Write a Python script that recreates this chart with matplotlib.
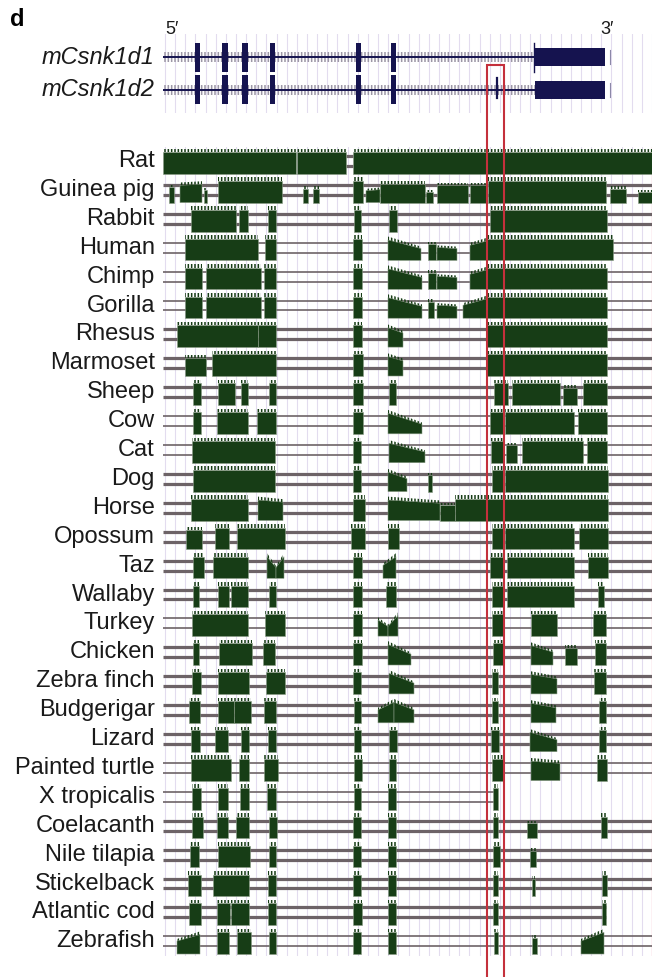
import numpy as np
import matplotlib
matplotlib.use('Agg')
import matplotlib.pyplot as plt
from matplotlib.patches import Polygon, Rectangle
from matplotlib.transforms import blended_transform_factory

plt.rcParams['font.family'] = ['Liberation Sans', 'DejaVu Sans']
plt.rcParams['hatch.linewidth'] = 1.1

W, H = 667, 977

# gene models (positions on the browser window, left = 163, right = 652)
genes = ['mCsnk1d1', 'mCsnk1d2']
exons = [(195, 200), (222, 228), (242, 248), (270, 275), (356, 361), (391, 396)]
intron_span = (163, 535)
utr_block = (535, 605)
alt_exon = 497
highlight = (487, 504)

species = ['Rat', 'Guinea pig', 'Rabbit', 'Human', 'Chimp', 'Gorilla', 'Rhesus',
           'Marmoset', 'Sheep', 'Cow', 'Cat', 'Dog', 'Horse', 'Opossum', 'Taz',
           'Wallaby', 'Turkey', 'Chicken', 'Zebra finch', 'Budgerigar', 'Lizard',
           'Painted turtle', 'X tropicalis', 'Coelacanth', 'Nile tilapia',
           'Stickelback', 'Atlantic cod', 'Zebrafish']

# conserved blocks per species: (start, end) or (start, end, h_left, h_right)
cons_blocks = [
    [(163, 296), (297, 346), (353, 652)],
    [(169, 174, .7, .7), (180, 202, .8, .85), (204, 207, .6, .6), (218, 282), (303, 308, .65, .65),
     (313, 319, .65, .65), (353, 363), (366, 380, .55, .6), (380, 425, .85, .85), (426, 433, .5, .5),
     (437, 468, .8, .8), (470, 487, .8, .8), (488, 606), (610, 626, .65, .65), (638, 652, .5, .5)],
    [(191, 236), (239, 248), (268, 276), (354, 361), (389, 397), (490, 607)],
    [(185, 258), (265, 276), (353, 362), (388, 421, .95, .55), (428, 436, .75, .75),
     (437, 457, .6, .55), (470, 487, .7, .9), (487, 613)],
    [(185, 202), (206, 261), (264, 276), (353, 362), (388, 422, .95, .55), (428, 436, .75, .75),
     (437, 457, .6, .55), (470, 487, .7, .9), (487, 607)],
    [(185, 202), (206, 261), (264, 276), (353, 362), (388, 422, .95, .55), (428, 434, .75, .75),
     (437, 457, .6, .55), (463, 487, .6, .9), (487, 607)],
    [(177, 258), (258, 276), (353, 362), (388, 403, .9, .65), (487, 607)],
    [(185, 206, .85, .85), (212, 276), (353, 363), (388, 403, .9, .7), (487, 607)],
    [(193, 201), (218, 235), (241, 248), (269, 276), (353, 363), (389, 396), (494, 508),
     (512, 560), (563, 577, .8, .8), (583, 607)],
    [(193, 201), (217, 248), (257, 276), (353, 363), (388, 422, .95, .45), (490, 503),
     (505, 574), (578, 607)],
    [(192, 275), (353, 361), (389, 425, .9, .5), (491, 503), (506, 517, .8, .8), (522, 583),
     (587, 607)],
    [(193, 275), (353, 361), (388, 407, .9, .6), (428, 432, .75, .75), (492, 503), (505, 608)],
    [(191, 248), (258, 283, .95, .85), (353, 365), (388, 440, .95, .8), (440, 455, .7, .7),
     (455, 608)],
    [(186, 202, .9, .9), (215, 229), (237, 285), (351, 365), (388, 399), (492, 503),
     (505, 574), (579, 608)],
    [(193, 204), (213, 248), (267, 276, 1, .5), (276, 284, .5, 1), (353, 362), (383, 396, .6, 1),
     (490, 503), (507, 574), (588, 608)],
    [(193, 199), (218, 229), (231, 248), (269, 276), (353, 362), (386, 396), (492, 503),
     (507, 574), (598, 604)],
    [(192, 248), (265, 285), (353, 362), (378, 388, .75, .45), (388, 398, .45, .95),
     (492, 503), (531, 557), (593, 606)],
    [(193, 199), (219, 252), (263, 275), (353, 362), (388, 411, .95, .5), (493, 503),
     (531, 553, .9, .6), (565, 577, .8, .8), (595, 606)],
    [(192, 201), (218, 249), (266, 285), (353, 361), (389, 414, .95, .5), (492, 498),
     (531, 557, .9, .7), (594, 606)],
    [(189, 200), (218, 234), (234, 251), (264, 276), (354, 361), (378, 394, .6, .95),
     (394, 414, .95, .6), (492, 498), (531, 556, .9, .7), (599, 606)],
    [(191, 200), (215, 228), (241, 249), (268, 276), (354, 361), (389, 397), (491, 499),
     (530, 557, .9, .55), (599, 606)],
    [(191, 231), (239, 249), (264, 278), (354, 362), (389, 396), (492, 503), (531, 560, .9, .8),
     (597, 607)],
    [(192, 201), (218, 228), (240, 249), (267, 276), (354, 361), (388, 396), (493, 498)],
    [(192, 203), (217, 228), (236, 249), (269, 277), (353, 361), (388, 396), (493, 498),
     (527, 537, .7, .7), (601, 607)],
    [(190, 199), (218, 250), (269, 276), (353, 361), (388, 396), (493, 500), (530, 536, .75, .75)],
    [(188, 201), (213, 249), (268, 276), (353, 361), (388, 396), (493, 498), (532, 535, .8, .8),
     (602, 607)],
    [(189, 201), (217, 230), (231, 249), (268, 276), (353, 362), (388, 396), (493, 498),
     (602, 606)],
    [(177, 200, .6, .9), (217, 229), (237, 251), (269, 276), (353, 361), (388, 396), (494, 498),
     (532, 537, .75, .75), (581, 604, .6, 1.0)],
]

# alignment chain lines: span and thickness
chain_span = [(346, 353)] + [(163, 652)] * 21 + [(163, 498), (163, 652), (163, 652),
                                                  (163, 652), (163, 606), (163, 652)]
chain_thick = [True, True, True, False, False, False, True, True, True, False, False, True,
               True, True, True, True, False, True, True, True, True, False, False, True,
               True, True, True, False]

fill_col = '#173d16'
edge_col = '#8a9c86'
chain_col = '#6d6367'
navy = '#15134f'
red = '#c4303c'

fig = plt.figure(figsize=(W / 100, H / 100), dpi=100)

# main conservation panel
row_px, row0 = 28.9, 161
top_px = row0 - 0.5 * row_px
bot_px = row0 + 27.5 * row_px
ax = fig.add_axes([163 / W, 1 - bot_px / H, 489 / W, (bot_px - top_px) / H])
ax.set_xlim(163, 652)
ax.set_ylim(27.5, -0.5)

grid_x = np.linspace(165, 652, 49)
ax.set_xticks(grid_x)
ax.set_yticks([])
ax.tick_params(length=0, labelbottom=False)
ax.grid(axis='x', color='#e3dcef', lw=0.8, zorder=0)
ax.set_axisbelow(True)
for s in ax.spines.values():
    s.set_visible(False)
ax.axvline(grid_x[-1], color='#ffc4cf', lw=1.0, zorder=0)

base_off, full_h = 0.44, 0.87
for i, name in enumerate(species):
    x0, x1 = chain_span[i]
    lw = 2.3 if chain_thick[i] else 1.2
    for dy in (-0.17, 0.17):
        ax.plot([x0, x1], [i + dy, i + dy], color=chain_col, lw=lw, solid_capstyle='butt', zorder=1)
    base = i + base_off
    for b in cons_blocks[i]:
        s, e = b[0], b[1]
        h0, h1 = (b[2], b[3]) if len(b) == 4 else (1.0, 1.0)
        t0, t1 = base - full_h * h0, base - full_h * h1
        m0, m1 = base - full_h * h0 * 0.86, base - full_h * h1 * 0.86
        ax.add_patch(Polygon([(s, base), (s, m0), (e, m1), (e, base)], closed=True,
                             facecolor=fill_col, edgecolor=edge_col, lw=0.4, zorder=2))
        ax.add_patch(Polygon([(s, m0), (s, t0), (e, t1), (e, m1)], closed=True,
                             facecolor='none', edgecolor=fill_col, hatch='|||||', lw=0, zorder=2))
    ax.text(-0.0164, i, name, transform=blended_transform_factory(ax.transAxes, ax.transData),
            ha='right', va='center', fontsize=17, color='#1a1a1a')

# gene model panel
gx = fig.add_axes([163 / W, 1 - 113 / H, 489 / W, 79 / H])
gx.set_xlim(163, 652)
gx.set_ylim(1.7, -0.7)
gx.set_xticks(grid_x)
gx.set_yticks([])
gx.tick_params(length=0, labelbottom=False)
gx.grid(axis='x', color='#e3dcef', lw=0.8, zorder=0)
gx.set_axisbelow(True)
gx.patch.set_alpha(0)
for s in gx.spines.values():
    s.set_visible(False)

for j, g in enumerate(genes):
    gx.add_patch(Rectangle((intron_span[0], j - 0.14), intron_span[1] - intron_span[0], 0.28,
                           facecolor='none', edgecolor='#9d97a6', hatch='|||||', lw=0, zorder=1))
    gx.plot(intron_span, [j, j], color=navy, lw=1.4, zorder=2)
    for s, e in exons:
        gx.add_patch(Rectangle((s, j - 0.44), e - s, 0.88, color=navy, lw=0, zorder=3))
    gx.add_patch(Rectangle((utr_block[0], j - 0.26), utr_block[1] - utr_block[0], 0.52,
                           color=navy, lw=0, zorder=3))
    gx.plot([utr_block[1] + 5] * 2, [j - 0.2, j + 0.2], color='#8c88a8', lw=0.8, zorder=3)
    gx.text(-0.0164, j, g, transform=blended_transform_factory(gx.transAxes, gx.transData),
            ha='right', va='center', fontsize=17, style='italic', color='#1a1a1a')
gx.plot([utr_block[0] - 1] * 2, [-0.44, 0.44], color=navy, lw=1.0, zorder=3)
gx.plot([alt_exon] * 2, [1 - 0.35, 1 + 0.25], color=navy, lw=1.6, zorder=3)

gx.text(165, -0.85, '5\u2032', ha='left', va='center', fontsize=13, color='#1a1a1a')
gx.text(600, -0.85, '3\u2032', ha='left', va='center', fontsize=13, color='#1a1a1a')
fig.text(10 / W, 1 - 20 / H, 'd', ha='left', va='center', fontsize=17, fontweight='bold')

# highlighted region box
tr = blended_transform_factory(ax.transData, fig.transFigure)
fig.add_artist(Rectangle((highlight[0], -0.01), highlight[1] - highlight[0], 1 - 65 / H + 0.01,
                         transform=tr, facecolor='none', edgecolor=red, lw=1.5, zorder=5))

fig.savefig('out.png', dpi=100)
